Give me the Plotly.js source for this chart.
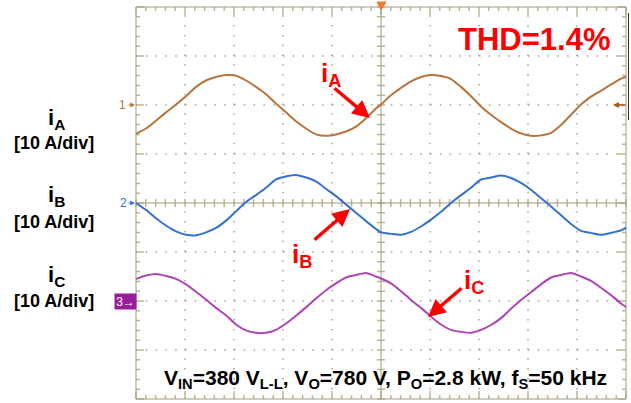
<!DOCTYPE html>
<html>
<head>
<meta charset="utf-8">
<script src="https://cdn.plot.ly/plotly-3.0.1.min.js"></script>
<style>html,body{margin:0;padding:0;background:#fff;}#chart{width:631px;height:403px;}</style>
</head>
<body>
<div id="chart"></div>
<script>
// time base: 4.9 ms/div, 10 divisions
const time_ms = [0,1,2,3,4,5,6,7,8,9,10,11,12,13,14,15,16,17,18,19,20,21,22,23,24,
  24.5,25.5,26.5,27.5,28.5,29.5,30.5,31.5,32.5,33.5,34.5,35.5,36.5,37.5,38.5,39.5,40.5,41.5,42.5,43.5,44.5,45.5,46.5,47.5,48.5,49.2];
// phase currents in A (10 A/div)
const iA_amps = [-5.9,-4.8,-3.2,-1.5,0.1,1.8,3.7,5.0,5.7,6.1,6.0,5.0,3.7,2.2,0.3,-1.5,-3.3,-4.8,-6.0,-6.3,-6.0,-5.4,-4.4,-2.7,-0.7,
  0.1,2.0,3.5,4.8,5.7,6.1,5.9,5.3,3.7,1.8,-0.3,-2.0,-3.5,-4.8,-5.8,-6.3,-6.2,-5.7,-4.1,-2.0,0.1,1.7,2.9,4.2,5.4,5.9];
const iB_amps = [0,-1.4,-3.1,-4.6,-5.8,-6.5,-6.6,-6.0,-5.1,-3.6,-1.7,0.2,1.6,3.1,4.8,5.4,5.7,5.2,4.4,2.9,1.4,-0.3,-2.0,-3.7,-5.3,
  -6.0,-6.3,-6.5,-5.9,-4.8,-3.4,-1.8,0,1.6,3.1,4.8,5.2,5.6,5.1,4.1,2.7,1.0,-0.7,-2.5,-4.3,-5.7,-6.1,-6.5,-6.1,-5.6,-4.8];
const iC_amps = [4.5,5.2,5.5,5.1,4.5,3.4,1.9,0.3,-1.4,-2.9,-4.8,-6.0,-6.5,-6.5,-5.9,-4.6,-3.0,-1.3,0.5,2.2,3.6,4.8,5.3,5.7,5.0,
  4.6,3.6,2.0,0.2,-1.4,-3.2,-4.8,-5.9,-6.3,-6.5,-5.9,-4.9,-3.5,-1.6,0.2,1.8,3.4,4.8,5.3,5.7,5.0,4.1,2.7,1.2,-0.5,-1.5];
const channelNames = ['i<sub>A</sub>', 'i<sub>B</sub>', 'i<sub>C</sub>'];
const channelScale = ['[10 A/div]', '[10 A/div]', '[10 A/div]'];
const thdText = 'THD=1.4%';
const condText = 'V<sub>IN</sub>=380 V<sub>L-L</sub>, V<sub>O</sub>=780 V, P<sub>O</sub>=2.8 kW, f<sub>S</sub>=50 kHz';

const AMP_PER_DIV = 10;
const offsets = [6, 4, 2]; // channel ground levels in divisions
const colors = ['#b8743c', '#3572cc', '#ad45b5'];

const toDiv = (arr, off) => arr.map(v => off + v / AMP_PER_DIV);
const series = [iA_amps, iB_amps, iC_amps];
const traces = series.map((s, i) => ({
  x: time_ms, y: toDiv(s, offsets[i]), type: 'scatter', mode: 'lines',
  line: {color: colors[i], width: 2, shape: 'spline', smoothing: 0.6}, hoverinfo: 'skip'
}));

// pixel helpers for decorations (plot area 136..626 x 7..399)
const L = 136, T = 7, W = 490, H = 392;
const px = x => (x - L) / W;
const py = y => (T + H - y) / H;

const grid = '#aaa386';
const shapes = [];
for (let i = 1; i < 10; i++) if (i !== 5)
  shapes.push({type:'line', xref:'paper', yref:'paper', x0:i/10, x1:i/10, y0:0, y1:1, layer:'below',
    line:{color:grid, width:1.5, dash:'1.5px,8.3px'}});
for (let j = 1; j < 8; j++) if (j !== 4)
  shapes.push({type:'line', xref:'paper', yref:'paper', x0:0, x1:1, y0:j/8, y1:j/8, layer:'below',
    line:{color:grid, width:1.5, dash:'1.5px,8.3px'}});
// ticks
let p = '';
for (let k = 0; k <= 50; k++) {
  const x = k/50, len = (k % 5 === 0 ? 8 : 4) / H;
  p += `M${x},1L${x},${1-len}M${x},0L${x},${len}`;
  p += `M${x},${0.5-4/H}L${x},${0.5+4/H}`;
}
for (let k = 0; k <= 40; k++) {
  const y = k/40, len = (k % 5 === 0 ? 8 : 4) / W;
  p += `M0,${y}L${len},${y}M1,${y}L${1-len},${y}`;
  p += `M${0.5-4/W},${y}L${0.5+4/W},${y}`;
}
shapes.push({type:'path', xref:'paper', yref:'paper', path:p, layer:'below', line:{color:'#bdb698', width:1.5}});
shapes.push({type:'line', xref:'paper', yref:'paper', x0:0.5, x1:0.5, y0:0, y1:1, layer:'below', line:{color:'#a39c7c', width:1}});
shapes.push({type:'line', xref:'paper', yref:'paper', x0:0, x1:1, y0:0.5, y1:0.5, layer:'below', line:{color:'#a39c7c', width:1.2}});
shapes.push({type:'rect', xref:'paper', yref:'paper', x0:0, x1:1, y0:0, y1:1, layer:'below', line:{color:'#a39c7c', width:1}});
// trigger marker
shapes.push({type:'path', xref:'paper', yref:'paper', path:`M${px(377)},${py(2)}L${px(386)},${py(2)}L${px(381)},${py(10)}Z`,
  fillcolor:'#f07a2a', line:{color:'#f07a2a', width:1}});
shapes.push({type:'line', xref:'paper', yref:'paper', x0:px(628.5), x1:px(628.5), y0:py(13), y1:py(120), line:{color:'#333', width:1}});

const F = 'Liberation Sans, Arial, sans-serif';
const ann = [];
const nameY = [119, 196, 276], scaleY = [143, 222, 301];
for (let i = 0; i < 3; i++) {
  ann.push({xref:'paper', yref:'paper', x:px(56), y:py(nameY[i]), text:'<b>'+channelNames[i]+'</b>', showarrow:false,
    font:{family:F, size:22, color:'#000'}, xanchor:'center', yanchor:'middle'});
  ann.push({xref:'paper', yref:'paper', x:px(54), y:py(scaleY[i]), text:'<b>'+channelScale[i]+'</b>', showarrow:false,
    font:{family:F, size:18, color:'#000'}, xanchor:'center', yanchor:'middle'});
}
ann.push({xref:'paper', yref:'paper', x:px(534), y:py(40), text:'<b>'+thdText+'</b>', showarrow:false,
  font:{family:F, size:31, color:'#ff0000'}, xanchor:'center', yanchor:'middle'});
ann.push({xref:'paper', yref:'paper', x:px(385), y:py(379), text:'<b>'+condText+'</b>', showarrow:false,
  font:{family:F, size:21, color:'#000'}, xanchor:'center', yanchor:'middle'});
// red labels + arrows
const redLbl = [[331, 75], [302, 255], [474, 281]];
const arrows = [[370, 118, -37, -31], [350, 209, -37, 32], [428, 317, 35, -30]];
for (let i = 0; i < 3; i++) {
  ann.push({xref:'paper', yref:'paper', x:px(redLbl[i][0]), y:py(redLbl[i][1]), text:'<b>'+channelNames[i]+'</b>', showarrow:false,
    font:{family:F, size:26, color:'#ff0000'}, xanchor:'center', yanchor:'middle'});
  const a = arrows[i];
  ann.push({xref:'paper', yref:'paper', x:px(a[0]), y:py(a[1]), ax:a[2], ay:a[3], text:'', showarrow:true,
    arrowhead:2, arrowsize:1, arrowwidth:3.5, arrowcolor:'#ff0000', standoff:0});
}
// channel ground markers
ann.push({xref:'paper', yref:'paper', x:px(122), y:py(105), text:'1', showarrow:false, font:{family:F, size:12, color:colors[0]}, xanchor:'center', yanchor:'middle'});
ann.push({xref:'paper', yref:'paper', x:px(135), y:py(105), ax:-8, ay:0, text:'', showarrow:true, arrowhead:2, arrowsize:0.8, arrowwidth:1.2, arrowcolor:colors[0], standoff:0});
ann.push({xref:'paper', yref:'paper', x:px(123), y:py(203), text:'2', showarrow:false, font:{family:F, size:12, color:colors[1]}, xanchor:'center', yanchor:'middle'});
ann.push({xref:'paper', yref:'paper', x:px(135), y:py(203), ax:-8, ay:0, text:'', showarrow:true, arrowhead:2, arrowsize:0.8, arrowwidth:1.2, arrowcolor:colors[1], standoff:0});
ann.push({xref:'paper', yref:'paper', x:px(125.5), y:py(301), text:'3→', showarrow:false, font:{family:F, size:12, color:'#fff'},
  bgcolor:'#9a1c9a', width:19, height:13, borderpad:1, xanchor:'center', yanchor:'middle'});
ann.push({xref:'paper', yref:'paper', x:px(613), y:py(105), ax:14, ay:0, text:'', showarrow:true, arrowhead:2, arrowsize:0.8, arrowwidth:1.5, arrowcolor:'#a85a1e', standoff:0});

const layout = {
  width: 631, height: 403, margin: {l: L, r: 5, t: T, b: 4},
  paper_bgcolor: '#fff', plot_bgcolor: '#fff', showlegend: false,
  xaxis: {range: [0, 49], visible: false, fixedrange: true},
  yaxis: {range: [0, 8], visible: false, fixedrange: true},
  shapes: shapes, annotations: ann
};
Plotly.newPlot('chart', traces, layout, {displayModeBar: false, staticPlot: true});
</script>
</body>
</html>
